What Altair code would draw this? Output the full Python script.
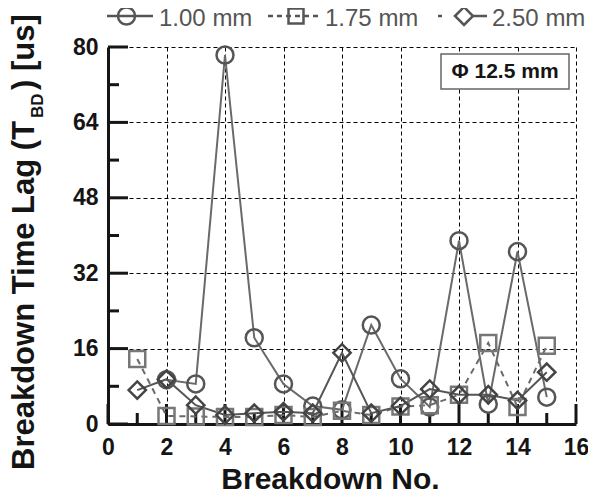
import altair as alt
import pandas as pd

# ---------------- data ----------------
breakdown_no = list(range(1, 16))
tbd_100 = [None, 9.4, 8.5, 78.3, 18.3, 8.5, 3.8, 3.0, 21.0, 9.6, 3.6, 38.9, 4.2, 36.6, 5.7]
tbd_175 = [13.8, 1.7, 1.6, 1.5, 1.5, 1.9, 1.5, 2.8, 1.9, 3.7, 4.0, 6.2, 17.2, 3.6, 16.6]
tbd_250 = [7.2, 9.5, 4.0, 1.9, 2.3, 2.6, 2.3, 15.1, 2.3, 3.8, 7.4, 6.2, 6.2, 5.0, 11.0]
series_names = ["1.00 mm", "1.75 mm", "2.50 mm"]

x_major = list(range(0, 17, 2))
x_minor = list(range(1, 16, 2))
y_major = [0, 16, 32, 48, 64, 80]
y_minor = [8, 24, 40, 56, 72]

annotation = "Φ 12.5 mm"

rows = []
for name, vals in zip(series_names, [tbd_100, tbd_175, tbd_250]):
    for n, v in zip(breakdown_no, vals):
        if v is not None:
            rows.append({"no": n, "tbd": v, "series": name})
df = pd.DataFrame(rows)

# ---------------- styling ----------------
W, H = 468, 377
FONT = "Liberation Sans"
INK = "#151515"

xscale = alt.Scale(domain=[0, 16], nice=False, zero=False)
yscale = alt.Scale(domain=[0, 80], nice=False, zero=False)

xaxis = alt.Axis(
    values=x_major, grid=True, gridDash=[4, 3], gridColor="#000", gridWidth=1,
    ticks=False, tickSize=0, domainColor=INK, domainWidth=3,
    labelFont=FONT, labelFontWeight="bold", labelFontSize=23, labelColor=INK,
    labelPadding=12, labelFlush=False, labelOverlap=False,
    title="Breakdown No.", titleFont=FONT, titleFontSize=30, titleFontWeight="bold",
    titleColor=INK, titleX=222, titleY=64, titleBaseline="alphabetic", titleAlign="center",
)
yaxis = alt.Axis(
    values=y_major, grid=True, gridDash=[4, 3], gridColor="#000", gridWidth=1,
    ticks=False, tickSize=0, domainColor=INK, domainWidth=3,
    labelFont=FONT, labelFontWeight="bold", labelFontSize=23, labelColor=INK,
    labelPadding=10, labelFlush=False, labelOverlap=False, title=None,
)


def X(field="no"):
    return alt.X(f"{field}:Q", scale=xscale, axis=xaxis)


def Y(field="tbd"):
    return alt.Y(f"{field}:Q", scale=yscale, axis=yaxis)


layers = []

# inward ticks
ytick_df = pd.DataFrame({"tbd": y_major + y_minor,
                         "len": [20] * len(y_major) + [11] * len(y_minor)})
xtick_df = pd.DataFrame({"no": x_major + x_minor,
                         "len": [20] * len(x_major) + [11] * len(x_minor)})
for L in (20, 11):
    layers.append(
        alt.Chart(ytick_df).transform_filter(f"datum.len == {L}")
        .mark_rule(color=INK, strokeWidth=3)
        .encode(x=alt.value(0), x2=alt.value(L), y=Y("tbd"))
    )
    layers.append(
        alt.Chart(xtick_df).transform_filter(f"datum.len == {L}")
        .mark_rule(color=INK, strokeWidth=3)
        .encode(x=X("no"), y=alt.value(H), y2=alt.value(H - L))
    )

line_styles = {
    "1.00 mm": dict(color="#6a6a6a", strokeWidth=2),
    "1.75 mm": dict(color="#6a6a6a", strokeWidth=2, strokeDash=[6, 5]),
    "2.50 mm": dict(color="#555555", strokeWidth=2),
}
point_styles = {
    "1.00 mm": dict(shape="circle", color="#555555", size=289),
    "1.75 mm": dict(shape="square", color="#777777", size=256),
    "2.50 mm": dict(shape="diamond", color="#444444", size=300),
}

for name in series_names:
    layers.append(
        alt.Chart(df).transform_filter(f"datum.series == '{name}'")
        .mark_line(**line_styles[name])
        .encode(x=X(), y=Y(), order="no:Q")
    )
for name in series_names:
    layers.append(
        alt.Chart(df).transform_filter(f"datum.series == '{name}'")
        .mark_point(filled=False, strokeWidth=2.5, opacity=1, **point_styles[name])
        .encode(x=X(), y=Y())
    )

# ---------------- legend (drawn by hand above the plot) ----------------
leg_df = pd.DataFrame({"series": series_names})
LEG_Y = -31      # symbol centre row
LEG_BASE = -21   # label baseline
LEG_GRAY = "#555555"
legend_items = {
    # segments: (x1, x2, dash), marker: (x, shape, size), label x
    "1.00 mm": dict(segs=[(-1, 45, None)], marker=(18.5, "circle", 289), label=51),
    "1.75 mm": dict(segs=[(160, 214, [5, 4])], marker=(188, "square", 225), label=217),
    "2.50 mm": dict(segs=[(330, 334, None), (365, 379, None)], marker=(356, "diamond", 324), label=384),
}
for name in series_names:
    item = legend_items[name]
    sub = alt.Chart(leg_df).transform_filter(alt.datum.series == name)
    for x1, x2, dash in item["segs"]:
        kw = dict(color=LEG_GRAY, strokeWidth=2.5)
        if dash:
            kw["strokeDash"] = dash
        layers.append(sub.mark_rule(**kw).encode(
            x=alt.value(x1), x2=alt.value(x2), y=alt.value(LEG_Y)))
    mx, shp, sz = item["marker"]
    layers.append(sub.mark_point(filled=False, shape=shp, size=sz, strokeWidth=2.5,
                                 color=LEG_GRAY, opacity=1)
                  .encode(x=alt.value(mx), y=alt.value(LEG_Y)))
    layers.append(sub.mark_text(font=FONT, fontSize=24, color=LEG_GRAY, align="left",
                                baseline="alphabetic")
                  .encode(x=alt.value(item["label"]), y=alt.value(LEG_BASE), text="series:N"))

# annotation box
ann_df = pd.DataFrame({"label": [annotation]})
layers.append(
    alt.Chart(ann_df).mark_rect(fill="white", stroke="#666666", strokeWidth=1.5)
    .encode(x=alt.value(333), x2=alt.value(461), y=alt.value(7), y2=alt.value(42))
)
layers.append(
    alt.Chart(ann_df).mark_text(font=FONT, fontSize=21, fontWeight="bold", color=INK,
                                align="center", baseline="middle")
    .encode(x=alt.value(397), y=alt.value(25), text="label:N")
)

# y title with subscript
ytitle_parts = ["Breakdown Time Lag (T", "BD", ") [us]"]
ytitle_df = pd.DataFrame({"t": ytitle_parts})
part_pos = [(-74, 423, 31), (-65, 71, 17), (-74, 43, 31)]
for part, (px, py, fs) in zip(ytitle_parts, part_pos):
    layers.append(
        alt.Chart(ytitle_df).transform_filter(alt.datum.t == part)
        .mark_text(font=FONT, fontSize=fs, fontWeight="bold", color=INK, angle=270,
                   align="left", baseline="alphabetic")
        .encode(x=alt.value(px), y=alt.value(py), text="t:N")
    )

chart = (
    alt.layer(*layers)
    .properties(
        width=W, height=H,
        autosize=alt.AutoSizeParams(type="none"),
        padding={"left": 100, "top": 39, "right": 12, "bottom": 67},
        background="white",
    )
    .configure_view(stroke=None)
)

chart.save("out.html", embed_options={"renderer": "svg", "actions": False})
